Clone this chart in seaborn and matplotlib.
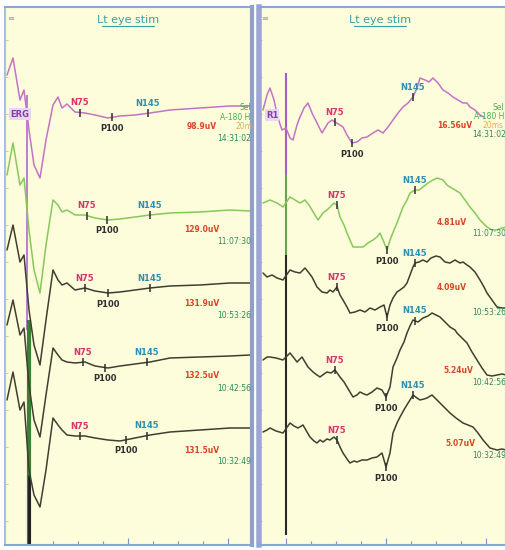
import numpy as np
import pandas as pd
import matplotlib
matplotlib.use("Agg")
import matplotlib.pyplot as plt
import seaborn as sns

sns.set_style("white")
plt.rcParams['font.family'] = ['DejaVu Sans']

TITLE = "Lt eye stim"
TIMES = ["14:31:02", "11:07:30", "10:53:26", "10:42:56", "10:32:49"]
COLORS = ["#c274c6", "#86c95a", "#3f3f30", "#3f3f30", "#3f3f30"]
LEFT_AMPS = ["98.9uV", "129.0uV", "131.9uV", "132.5uV", "131.5uV"]
RIGHT_AMPS = ["16.56uV", "4.81uV", "4.09uV", "5.24uV", "5.07uV"]

# ---- left panel (ERG) traces, screen-pixel units ----
LEFT_X = [7, 13, 20, 24, 29, 34, 40, 46, 53, 58, 62, 67, 75, 85, 95, 108, 120, 135, 150, 170, 200, 230, 250]
LEFT_Y = [
    [75, 58, 100, 90, 130, 165, 178, 140, 105, 97, 108, 104, 112, 113, 115, 118, 116, 115, 113, 110, 108, 106, 106],
    [175, 143, 185, 178, 230, 270, 293, 245, 200, 205, 212, 210, 215, 215, 218, 220, 219, 217, 215, 213, 212, 210, 211],
    [250, 225, 262, 255, 310, 345, 365, 320, 270, 280, 285, 283, 290, 288, 291, 293, 292, 290, 288, 286, 285, 283, 283],
    [325, 300, 335, 328, 385, 420, 437, 395, 348, 355, 360, 362, 363, 362, 366, 368, 366, 364, 362, 358, 357, 356, 355],
    [400, 372, 410, 402, 470, 495, 507, 470, 418, 425, 430, 435, 436, 436, 438, 440, 441, 438, 435, 432, 430, 428, 428],
]
LEFT_N75 = [80, 87, 85, 83, 80]
LEFT_P100 = [112, 107, 108, 105, 126]
LEFT_N145 = [148, 150, 150, 147, 147]
LEFT_AMP_Y = [126, 229, 303, 375, 450]
LEFT_TIME_Y = [138, 241, 315, 388, 461]

# ---- right panel (VEP) traces ----
RIGHT_TRACES = [
    ([263, 267, 270, 274, 278, 282, 286, 290, 293, 297, 300, 304, 308, 312, 317, 322, 328, 332, 335, 340, 343, 347, 352, 357, 362, 367, 373, 378, 383, 388, 393, 398, 403, 408, 413, 417, 420, 425, 429, 433, 438, 443, 448, 453, 458, 463, 467, 470, 475, 480, 484],
     [110, 95, 88, 100, 118, 130, 128, 138, 140, 125, 117, 108, 103, 113, 123, 133, 123, 120, 122, 125, 127, 135, 143, 142, 138, 137, 133, 130, 133, 127, 120, 113, 107, 103, 97, 88, 78, 80, 82, 78, 83, 90, 93, 97, 100, 103, 103, 107, 110, 115, 117]),
    ([263, 270, 277, 283, 290, 295, 300, 305, 309, 312, 318, 323, 327, 330, 334, 337, 340, 344, 347, 350, 353, 358, 363, 368, 373, 377, 380, 383, 387, 390, 394, 397, 400, 403, 407, 410, 415, 419, 423, 428, 433, 437, 443, 447, 450, 455, 460, 465, 470, 475, 480, 487, 492, 497, 502, 506],
     [203, 200, 203, 207, 197, 200, 203, 200, 205, 210, 220, 213, 210, 207, 203, 205, 217, 225, 233, 240, 247, 247, 247, 243, 240, 237, 233, 240, 250, 240, 230, 223, 215, 207, 200, 193, 190, 190, 187, 183, 180, 178, 180, 185, 187, 190, 193, 200, 207, 213, 220, 227, 230, 230, 228, 227]),
    ([263, 267, 272, 277, 283, 290, 295, 300, 305, 309, 312, 317, 322, 327, 330, 333, 337, 340, 343, 347, 350, 355, 360, 365, 370, 375, 380, 384, 387, 390, 393, 397, 400, 404, 407, 410, 413, 415, 419, 423, 427, 431, 436, 440, 445, 450, 455, 460, 463, 467, 470, 475, 480, 484, 487, 492, 497, 502, 506],
     [273, 277, 275, 278, 280, 270, 272, 273, 268, 273, 277, 287, 292, 293, 290, 292, 287, 295, 300, 307, 313, 312, 310, 312, 308, 310, 307, 305, 317, 305, 298, 292, 290, 287, 283, 275, 267, 263, 262, 260, 262, 258, 256, 257, 262, 263, 260, 263, 262, 265, 267, 272, 280, 287, 293, 300, 307, 308, 308]),
    ([263, 267, 270, 276, 283, 290, 294, 297, 302, 305, 308, 313, 317, 320, 324, 327, 331, 335, 340, 344, 347, 350, 353, 357, 360, 364, 367, 372, 377, 382, 386, 390, 393, 397, 400, 404, 407, 410, 413, 418, 423, 428, 432, 436, 440, 445, 450, 455, 457, 462, 467, 472, 477, 482, 487, 492, 497, 502, 506],
     [360, 357, 357, 358, 360, 353, 358, 362, 357, 362, 367, 372, 375, 377, 374, 372, 373, 370, 377, 382, 387, 392, 397, 395, 392, 394, 395, 392, 388, 390, 397, 387, 367, 358, 350, 342, 333, 326, 320, 322, 318, 316, 313, 315, 317, 322, 327, 330, 333, 338, 343, 352, 360, 368, 375, 376, 375, 374, 375]),
    ([263, 267, 270, 276, 283, 290, 294, 298, 303, 307, 310, 314, 317, 320, 323, 327, 330, 334, 337, 340, 343, 347, 350, 354, 357, 362, 367, 372, 377, 382, 386, 390, 393, 397, 400, 405, 410, 413, 417, 420, 424, 427, 432, 436, 440, 445, 450, 456, 463, 468, 473, 478, 483, 490, 497, 502, 506],
     [432, 430, 428, 431, 433, 423, 426, 428, 425, 432, 437, 441, 443, 440, 442, 439, 440, 437, 440, 447, 453, 459, 463, 461, 462, 460, 460, 458, 457, 453, 467, 453, 433, 423, 417, 408, 400, 395, 398, 400, 399, 398, 395, 399, 403, 408, 413, 418, 423, 425, 427, 433, 440, 448, 450, 449, 450]),
]
RIGHT_N75 = [335, 337, 337, 335, 337]
RIGHT_P100 = [352, 387, 387, 386, 386]
RIGHT_N145 = [413, 415, 415, 415, 413]
RIGHT_AMP_POS = [(455, 125), (452, 222), (452, 287), (458, 370), (460, 443)]
RIGHT_TIME_Y = [134, 233, 312, 382, 455]

# stimulus spikes: (x, y_top, y_bottom, colour, width)
LEFT_SPIKES = [(27, 95, 330, "#b06ad0", 1.2), (29, 320, 545, "#3f7f35", 3.0), (29, 475, 545, "#1f1f1a", 2.0)]
RIGHT_SPIKES = [(286, 73, 175, "#a060c8", 1.5), (286, 175, 255, "#6aa050", 1.5), (286, 255, 535, "#2a2a22", 1.5)]

BG = "#fdfcdb"
W, H = 506, 550

fig = plt.figure(figsize=(W / 100, H / 100), dpi=100)
fig.patch.set_facecolor("white")


def make_ax(x0, x1):
    ax = fig.add_axes([x0 / W, 1 - 545 / H, (x1 - x0) / W, (545 - 7) / H])
    ax.set_xlim(x0, x1)
    ax.set_ylim(545, 7)
    ax.set_facecolor(BG)
    return ax


axL = make_ax(5, 252)
axR = make_ax(259, 506)


def style(ax, xt, major, side_color, side_w):
    for s in ["top", "bottom", "left", "right"]:
        ax.spines[s].set_color("#86a8d6")
        ax.spines[s].set_linewidth(1.5)
    ax.spines["left"].set_color(side_color)
    ax.spines["left"].set_linewidth(side_w)
    ax.set_xticks(xt)
    ax.set_xticklabels([])
    ax.set_yticks(np.arange(40, 545, 37))
    ax.set_yticklabels([])
    ax.tick_params(axis="x", direction="in", length=3, color="#7a95c0", width=0.8, bottom=True)
    ax.tick_params(axis="y", direction="in", length=2, color="#c4c8cc", width=0.7, left=True)
    ax.set_xlabel("")
    ax.set_ylabel("")
    xm = ax.get_xaxis().get_major_ticks()
    for t, v in zip(xm, xt):
        if v in major:
            t.tick1line.set_markersize(5)


def draw_trace(ax, xs, ys, color):
    df = pd.DataFrame({"x": xs, "y": ys})
    sns.lineplot(data=df, x="x", y="y", ax=ax, color=color, sort=False,
                 estimator=None, linewidth=1.1, legend=False)


def markers(ax, xs, ys, n75, p100, n145):
    for xm, lab, col, dy in [(n75, "N75", "#d8336a", -10), (p100, "P100", "#2e2e2e", 11),
                             (n145, "N145", "#2e8fb0", -10)]:
        ym = float(np.interp(xm, xs, ys))
        ax.vlines(xm, ym - 4, ym + 4, color="#2e2e2e", linewidth=1.1)
        ax.text(xm, ym + dy, lab, color=col, fontsize=6, ha="center", va="center",
                fontweight="bold")


def title(ax, xc):
    ax.text(xc, 20, TITLE, color="#3a9ea8", fontsize=8, ha="center", va="center")
    ax.plot([xc - 26, xc + 26], [26, 26], color="#3a9ea8", linewidth=0.8)
    ax.text(ax.get_xlim()[0] + 6, 18, "≡", color="#a0a0a0", fontsize=6, ha="center", va="center")


# ---- left panel ----
for (x, y0, y1, c, w) in LEFT_SPIKES:
    axL.vlines(x, y0, y1, color=c, linewidth=w, zorder=1)
for i in range(5):
    draw_trace(axL, LEFT_X, LEFT_Y[i], COLORS[i])
    markers(axL, LEFT_X, LEFT_Y[i], LEFT_N75[i], LEFT_P100[i], LEFT_N145[i])
    axL.text(202, LEFT_AMP_Y[i], LEFT_AMPS[i], color="#d9452b", fontsize=5.5, ha="center",
             va="center", fontweight="bold")
    axL.text(217, LEFT_TIME_Y[i], TIMES[i], color="#2f8a5a", fontsize=5.5, ha="left",
             va="center", clip_on=True)
axL.text(20, 114, "ERG", color="#8a3aa8", fontsize=6, ha="center", va="center", fontweight="bold",
         bbox=dict(boxstyle="square,pad=0.15", fc="#e6d8f0", ec="none"))
axL.text(240, 107, "Sel", color="#4cae4c", fontsize=5.5, ha="left", va="center", clip_on=True)
axL.text(220, 117, "A-180 H", color="#4cae4c", fontsize=5.5, ha="left", va="center", clip_on=True)
axL.text(236, 126, "20ms", color="#e0b050", fontsize=5.5, ha="left", va="center", clip_on=True)
title(axL, 128)
style(axL, list(range(28, 252, 25)), [28, 128, 228], "#a9c0e0", 1.5)

# ---- right panel ----
for (x, y0, y1, c, w) in RIGHT_SPIKES:
    axR.vlines(x, y0, y1, color=c, linewidth=w, zorder=1)
for i in range(5):
    xs, ys = RIGHT_TRACES[i]
    draw_trace(axR, xs, ys, COLORS[i])
    markers(axR, xs, ys, RIGHT_N75[i], RIGHT_P100[i], RIGHT_N145[i])
    axR.text(RIGHT_AMP_POS[i][0], RIGHT_AMP_POS[i][1], RIGHT_AMPS[i], color="#d9452b",
             fontsize=5.5, ha="center", va="center", fontweight="bold")
    axR.text(472, RIGHT_TIME_Y[i], TIMES[i], color="#2f8a5a", fontsize=5.5, ha="left",
             va="center", clip_on=True)
axR.text(272, 115, "R1", color="#8a3aa8", fontsize=6, ha="center", va="center", fontweight="bold",
         bbox=dict(boxstyle="square,pad=0.15", fc="#e6d8f0", ec="none"))
axR.text(504, 107, "Sel", color="#4cae4c", fontsize=5.5, ha="right", va="center", clip_on=True)
axR.text(504, 116, "A-180 H", color="#4cae4c", fontsize=5.5, ha="right", va="center", clip_on=True)
axR.text(504, 125, "20ms", color="#e0b050", fontsize=5.5, ha="right", va="center", clip_on=True)
title(axR, 380)
style(axR, list(range(286, 506, 25)), [286, 386, 486], "#9ea6d6", 4)
axL.spines["right"].set_color("#8fa0c8")
axL.spines["right"].set_linewidth(3)

fig.savefig("out.png", dpi=100, facecolor="white")
